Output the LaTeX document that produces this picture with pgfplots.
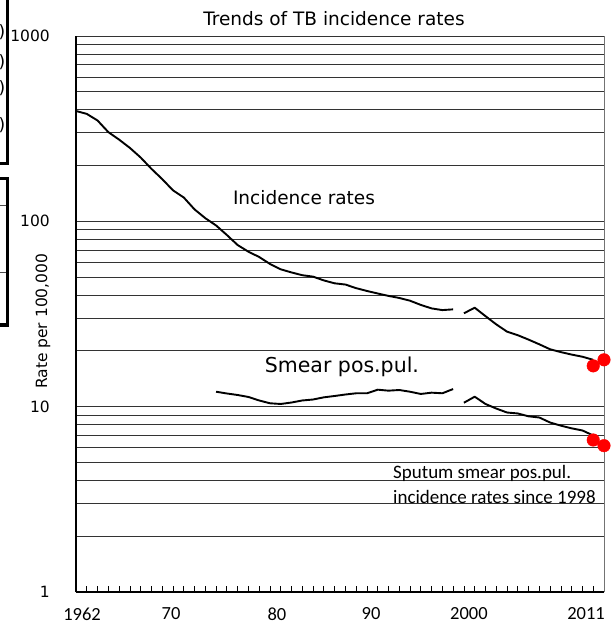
\documentclass[border=0pt]{standalone}
\usepackage{fontspec}
\setmainfont{DejaVu Sans}
\newfontfamily\carlito{Carlito}
\usepackage{pgfplots}
\pgfplotsset{compat=1.18}
\definecolor{dotred}{RGB}{255,0,0}
\begin{document}
\begin{tikzpicture}
\useasboundingbox (0,0) rectangle (614pt,630pt);
\begin{axis}[
  at={(76pt,38pt)}, anchor=south west,
  width=528pt, height=556pt, scale only axis,
  xmin=1962, xmax=2011, ymin=1, ymax=1000, ymode=log,
  axis lines=left, axis line style={-, black, line width=1.1pt},
  clip=false,
  xtick={1962,...,2011}, xticklabel=\empty,
  tick align=inside, major tick length=6pt,
  xtick style={black, line width=0.7pt},
  extra x ticks={1962.56,1970.82,1980.65,1989.38,1998.47,2009.33},
  extra x tick labels={1962,70,80,90,2000,2011},
  extra x tick style={major tick length=0pt,
    xticklabel style={font=\carlito\fontsize{18.5}{22}\selectfont, anchor=center, yshift=-22pt}},
  ytick={1,10,100,1000}, yticklabels={1,10,100,1000},
  yticklabel style={font=\fontsize{15.5}{18}\selectfont, anchor=east, inner sep=0pt, xshift=-26pt},
  ytick style={draw=none},
  minor ytick={2,3,4,5,6,7,8,9,20,30,40,50,60,70,80,90,200,300,400,500,600,700,800,900},
  ymajorgrids, yminorgrids,
  major grid style={black!80, line width=0.9pt},
  minor grid style={black!80, line width=0.9pt},
  title={Trends of TB incidence rates},
  title style={font=\fontsize{18.5}{22}\selectfont, at={(rel axis cs:0.4886,1.02)}, anchor=center},
  ylabel={Rate per 100,000},
  ylabel style={font=\fontsize{15.5}{18}\selectfont, at={(rel axis cs:-0.0625,0.487)}, anchor=center},
]
\draw[black!55, line width=1pt] (rel axis cs:1,0) -- (rel axis cs:1,1);
% Incidence rates, 1962-1997
\addplot[black, line width=1.9pt, line join=round, mark=none] coordinates {
(1962,394) (1963,380) (1964,350) (1965,303) (1966,276) (1967,249) (1968,221)
(1969,192) (1970,169) (1971,147) (1972,134.5) (1973,116) (1974,104) (1975,95)
(1976,84.4) (1977,74.5) (1978,68.6) (1979,64.2) (1980,58.9) (1981,55.1)
(1982,53.0) (1983,51.2) (1984,50.3) (1985,48.0) (1986,46.3) (1987,45.6)
(1988,43.6) (1989,42.1) (1990,40.8) (1991,39.6) (1992,38.6) (1993,37.3)
(1994,35.4) (1995,33.9) (1996,33.2) (1997,33.5)
};
% Incidence rates, 1998-2010
\addplot[black, line width=1.9pt, line join=round, mark=none] coordinates {
(1998,31.9) (1999,34.2) (2000,30.8) (2001,27.8) (2002,25.4) (2003,24.3)
(2004,23.0) (2005,21.7) (2006,20.4) (2007,19.7) (2008,19.1) (2009,18.6) (2010,17.9)
};
% Smear positive, 1975-1997
\addplot[black, line width=1.9pt, line join=round, mark=none] coordinates {
(1975,12.04) (1976,11.78) (1977,11.56) (1978,11.28) (1979,10.8) (1980,10.43)
(1981,10.34) (1982,10.53) (1983,10.8) (1984,10.93) (1985,11.23) (1986,11.42)
(1987,11.63) (1988,11.81) (1989,11.81) (1990,12.35) (1991,12.2) (1992,12.3)
(1993,12.04) (1994,11.71) (1995,11.9) (1996,11.81) (1997,12.45)
};
% Sputum smear positive, 1998-2010
\addplot[black, line width=1.9pt, line join=round, mark=none] coordinates {
(1998,10.5) (1999,11.32) (2000,10.34) (2001,9.77) (2002,9.3) (2003,9.19)
(2004,8.87) (2005,8.74) (2006,8.21) (2007,7.9) (2008,7.64) (2009,7.44) (2010,6.99)
};
% red markers
\addplot[only marks, mark=*, mark size=6.3pt, mark options={fill=dotred, draw=dotred}] coordinates {
(2010,16.6) (2011,17.9) (2010,6.61) (2011,6.16)
};
\node[font=\fontsize{18.5}{22}\selectfont] at (axis cs:1983.16,133.6) {Incidence rates};
\node[font=\fontsize{20.5}{24}\selectfont] at (axis cs:1986.68,16.37) {Smear pos.pul.};
\node[anchor=west, inner sep=0pt, font=\carlito\fontsize{19}{22}\selectfont] at (axis cs:1991.42,4.386) {Sputum smear pos.pul.};
\node[anchor=west, inner sep=0pt, font=\carlito\fontsize{19}{22}\selectfont] at (axis cs:1991.42,3.254) {incidence rates since 1998};
\end{axis}
% cropped neighbouring boxes at the left edge
\draw[line width=3.3pt] (7.7pt,632pt) -- (7.7pt,466.7pt) -- (-2pt,466.7pt);
\draw[line width=3.3pt] (-2pt,451.7pt) -- (7.7pt,451.7pt) -- (7.7pt,305pt) -- (-2pt,305pt);
\draw[black!70, line width=0.8pt] (-1pt,425pt) -- (6pt,425pt);
\draw[black!70, line width=0.8pt] (-1pt,358pt) -- (6pt,358pt);
\foreach \yy in {598,568,542,505} {
  \node[anchor=east, inner sep=0pt, font=\fontsize{17}{20}\selectfont] at (5.5pt,\yy pt) {)};
}
\end{tikzpicture}
\end{document}
